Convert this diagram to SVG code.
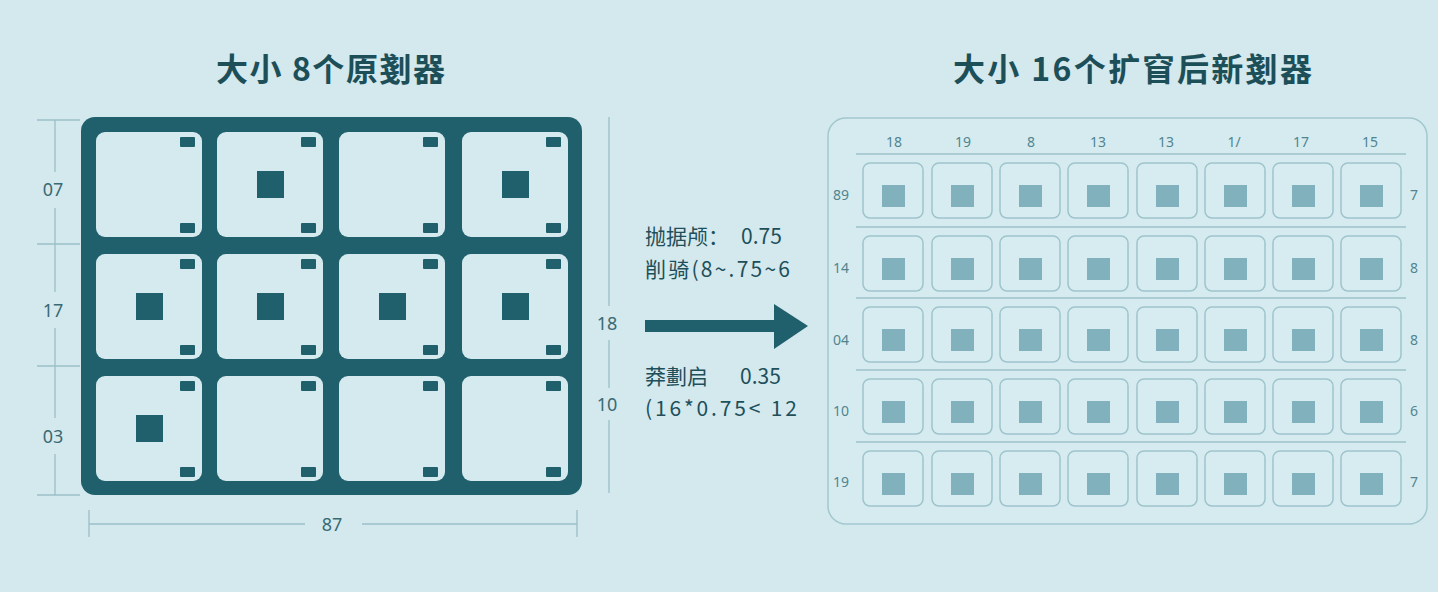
<svg xmlns="http://www.w3.org/2000/svg" xmlns:xlink="http://www.w3.org/1999/xlink" width="1438" height="592" viewBox="0 0 1438 592">
<defs>
<style>
.bg{fill:#d3e9ee}
.title{font-family:"Noto Sans CJK SC","Noto Sans",sans-serif;font-weight:700;font-size:32px;fill:#1d4f59}
.dim{stroke:#9bbfc6;stroke-width:1.3;fill:none}
.dlab{font-family:"Noto Sans","Liberation Sans",sans-serif;font-size:18px;fill:#3a6a73}
.frame{fill:#1f606c}
.lc{fill:#d5eaef}
.mk{fill:#1f606c}
.mid{font-family:"Noto Sans CJK SC","Noto Sans",sans-serif;font-size:21px;fill:#1e4f5a}
.panel{fill:#d6ebf0;stroke:#a3c7ce;stroke-width:1.5}
.sep{stroke:#9cc2ca;stroke-width:1.5}
.rc{fill:#d7ecf0;stroke:#9ec4cc;stroke-width:1.5}
.sq{fill:#80b1bc}
.hl{font-family:"Noto Sans","Liberation Sans",sans-serif;font-size:14px;fill:#50858f;text-anchor:middle}
</style>
<g id="lcell">
<rect class="lc" x="0" y="0" width="106" height="105" rx="9"/>
<rect class="mk" x="84" y="5" width="15" height="10" rx="1"/>
<rect class="mk" x="84" y="91" width="15" height="10" rx="1"/>
</g>
<rect id="big" class="mk" x="40" y="39" width="27" height="27"/>
<g id="rcell">
<rect class="rc" x="0" y="0" width="60" height="55" rx="7"/>
<rect class="sq" x="19" y="22" width="23" height="22"/>
</g>
</defs>
<rect class="bg" x="0" y="0" width="1438" height="592"/>

<g id="titles">
<text class="title" x="216" y="81" textLength="229" lengthAdjust="spacing">大小 8个原剗器</text>
<text class="title" x="953" y="81" textLength="359" lengthAdjust="spacing">大小 16个扩窅后新剗器</text>
</g>

<g id="left-dims">
<line class="dim" x1="55" y1="120" x2="55" y2="172"/>
<line class="dim" x1="55" y1="208" x2="55" y2="292"/>
<line class="dim" x1="55" y1="328" x2="55" y2="418"/>
<line class="dim" x1="55" y1="454" x2="55" y2="495"/>
<line class="dim" x1="37" y1="120" x2="80" y2="120"/>
<line class="dim" x1="37" y1="244" x2="80" y2="244"/>
<line class="dim" x1="37" y1="366" x2="80" y2="366"/>
<line class="dim" x1="37" y1="495" x2="80" y2="495"/>
<text class="dlab" x="53" y="196" text-anchor="middle">07</text>
<text class="dlab" x="53" y="317" text-anchor="middle">17</text>
<text class="dlab" x="53" y="443" text-anchor="middle">03</text>
<line class="dim" x1="89" y1="510" x2="89" y2="537"/>
<line class="dim" x1="577" y1="510" x2="577" y2="537"/>
<line class="dim" x1="89" y1="524" x2="305" y2="524"/>
<line class="dim" x1="362" y1="524" x2="577" y2="524"/>
<text class="dlab" x="332" y="531" text-anchor="middle">87</text>
<line class="dim" x1="609" y1="117" x2="609" y2="306"/>
<line class="dim" x1="609" y1="340" x2="609" y2="388"/>
<line class="dim" x1="609" y1="420" x2="609" y2="493"/>
<text class="dlab" x="607" y="330" text-anchor="middle">18</text>
<text class="dlab" x="607" y="411" text-anchor="middle">10</text>
</g>

<g id="original">
<rect class="frame" x="81" y="117" width="501" height="378" rx="14"/>
<use href="#lcell" x="96" y="132"/>
<use href="#lcell" x="217" y="132"/>
<use href="#lcell" x="339" y="132"/>
<use href="#lcell" x="462" y="132"/>
<use href="#lcell" x="96" y="254"/>
<use href="#lcell" x="217" y="254"/>
<use href="#lcell" x="339" y="254"/>
<use href="#lcell" x="462" y="254"/>
<use href="#lcell" x="96" y="376"/>
<use href="#lcell" x="217" y="376"/>
<use href="#lcell" x="339" y="376"/>
<use href="#lcell" x="462" y="376"/>
<use href="#big" x="217" y="132"/>
<use href="#big" x="462" y="132"/>
<use href="#big" x="96" y="254"/>
<use href="#big" x="217" y="254"/>
<use href="#big" x="339" y="254"/>
<use href="#big" x="462" y="254"/>
<use href="#big" x="96" y="376"/>
</g>

<g id="connectors">
<rect x="645" y="320" width="132" height="12" fill="#1f606c"/>
<polygon points="774,304 808,326 774,349" fill="#1f606c"/>
</g>

<g id="mid-labels">
<text class="mid" x="645" y="244">抛据颅：<tspan x="741">0.75</tspan></text>
<text class="mid" x="645" y="277" textLength="145" lengthAdjust="spacing">削骑(8~.75~6</text>
<text class="mid" x="645" y="384">莽劃启<tspan x="740">0.35</tspan></text>
<text class="mid" x="645" y="416" textLength="152" lengthAdjust="spacing">(16*0.75&lt; 12</text>
</g>

<g id="expanded">
<rect class="panel" x="828" y="118" width="599" height="406" rx="18"/>
<line class="sep" x1="856" y1="154" x2="1406" y2="154"/>
<line class="sep" x1="856" y1="227" x2="1406" y2="227"/>
<line class="sep" x1="856" y1="298" x2="1406" y2="298"/>
<line class="sep" x1="856" y1="370" x2="1406" y2="370"/>
<line class="sep" x1="856" y1="442" x2="1406" y2="442"/>
<g id="headers">
<text class="hl" x="894" y="147">18</text>
<text class="hl" x="963" y="147">19</text>
<text class="hl" x="1031" y="147">8</text>
<text class="hl" x="1098" y="147">13</text>
<text class="hl" x="1166" y="147">13</text>
<text class="hl" x="1234" y="147">1/</text>
<text class="hl" x="1301" y="147">17</text>
<text class="hl" x="1370" y="147">15</text>
<text class="hl" x="841" y="200">89</text>
<text class="hl" x="841" y="273">14</text>
<text class="hl" x="841" y="345">04</text>
<text class="hl" x="841" y="416">10</text>
<text class="hl" x="841" y="487">19</text>
<text class="hl" x="1414" y="200">7</text>
<text class="hl" x="1414" y="273">8</text>
<text class="hl" x="1414" y="345">8</text>
<text class="hl" x="1414" y="416">6</text>
<text class="hl" x="1414" y="487">7</text>
</g>
<g id="row1">
<use href="#rcell" x="863" y="163"/><use href="#rcell" x="932" y="163"/><use href="#rcell" x="1000" y="163"/><use href="#rcell" x="1068" y="163"/><use href="#rcell" x="1137" y="163"/><use href="#rcell" x="1205" y="163"/><use href="#rcell" x="1273" y="163"/><use href="#rcell" x="1341" y="163"/>
</g>
<g id="row2">
<use href="#rcell" x="863" y="236"/><use href="#rcell" x="932" y="236"/><use href="#rcell" x="1000" y="236"/><use href="#rcell" x="1068" y="236"/><use href="#rcell" x="1137" y="236"/><use href="#rcell" x="1205" y="236"/><use href="#rcell" x="1273" y="236"/><use href="#rcell" x="1341" y="236"/>
</g>
<g id="row3">
<use href="#rcell" x="863" y="307"/><use href="#rcell" x="932" y="307"/><use href="#rcell" x="1000" y="307"/><use href="#rcell" x="1068" y="307"/><use href="#rcell" x="1137" y="307"/><use href="#rcell" x="1205" y="307"/><use href="#rcell" x="1273" y="307"/><use href="#rcell" x="1341" y="307"/>
</g>
<g id="row4">
<use href="#rcell" x="863" y="379"/><use href="#rcell" x="932" y="379"/><use href="#rcell" x="1000" y="379"/><use href="#rcell" x="1068" y="379"/><use href="#rcell" x="1137" y="379"/><use href="#rcell" x="1205" y="379"/><use href="#rcell" x="1273" y="379"/><use href="#rcell" x="1341" y="379"/>
</g>
<g id="row5">
<use href="#rcell" x="863" y="451"/><use href="#rcell" x="932" y="451"/><use href="#rcell" x="1000" y="451"/><use href="#rcell" x="1068" y="451"/><use href="#rcell" x="1137" y="451"/><use href="#rcell" x="1205" y="451"/><use href="#rcell" x="1273" y="451"/><use href="#rcell" x="1341" y="451"/>
</g>
</g>
</svg>
